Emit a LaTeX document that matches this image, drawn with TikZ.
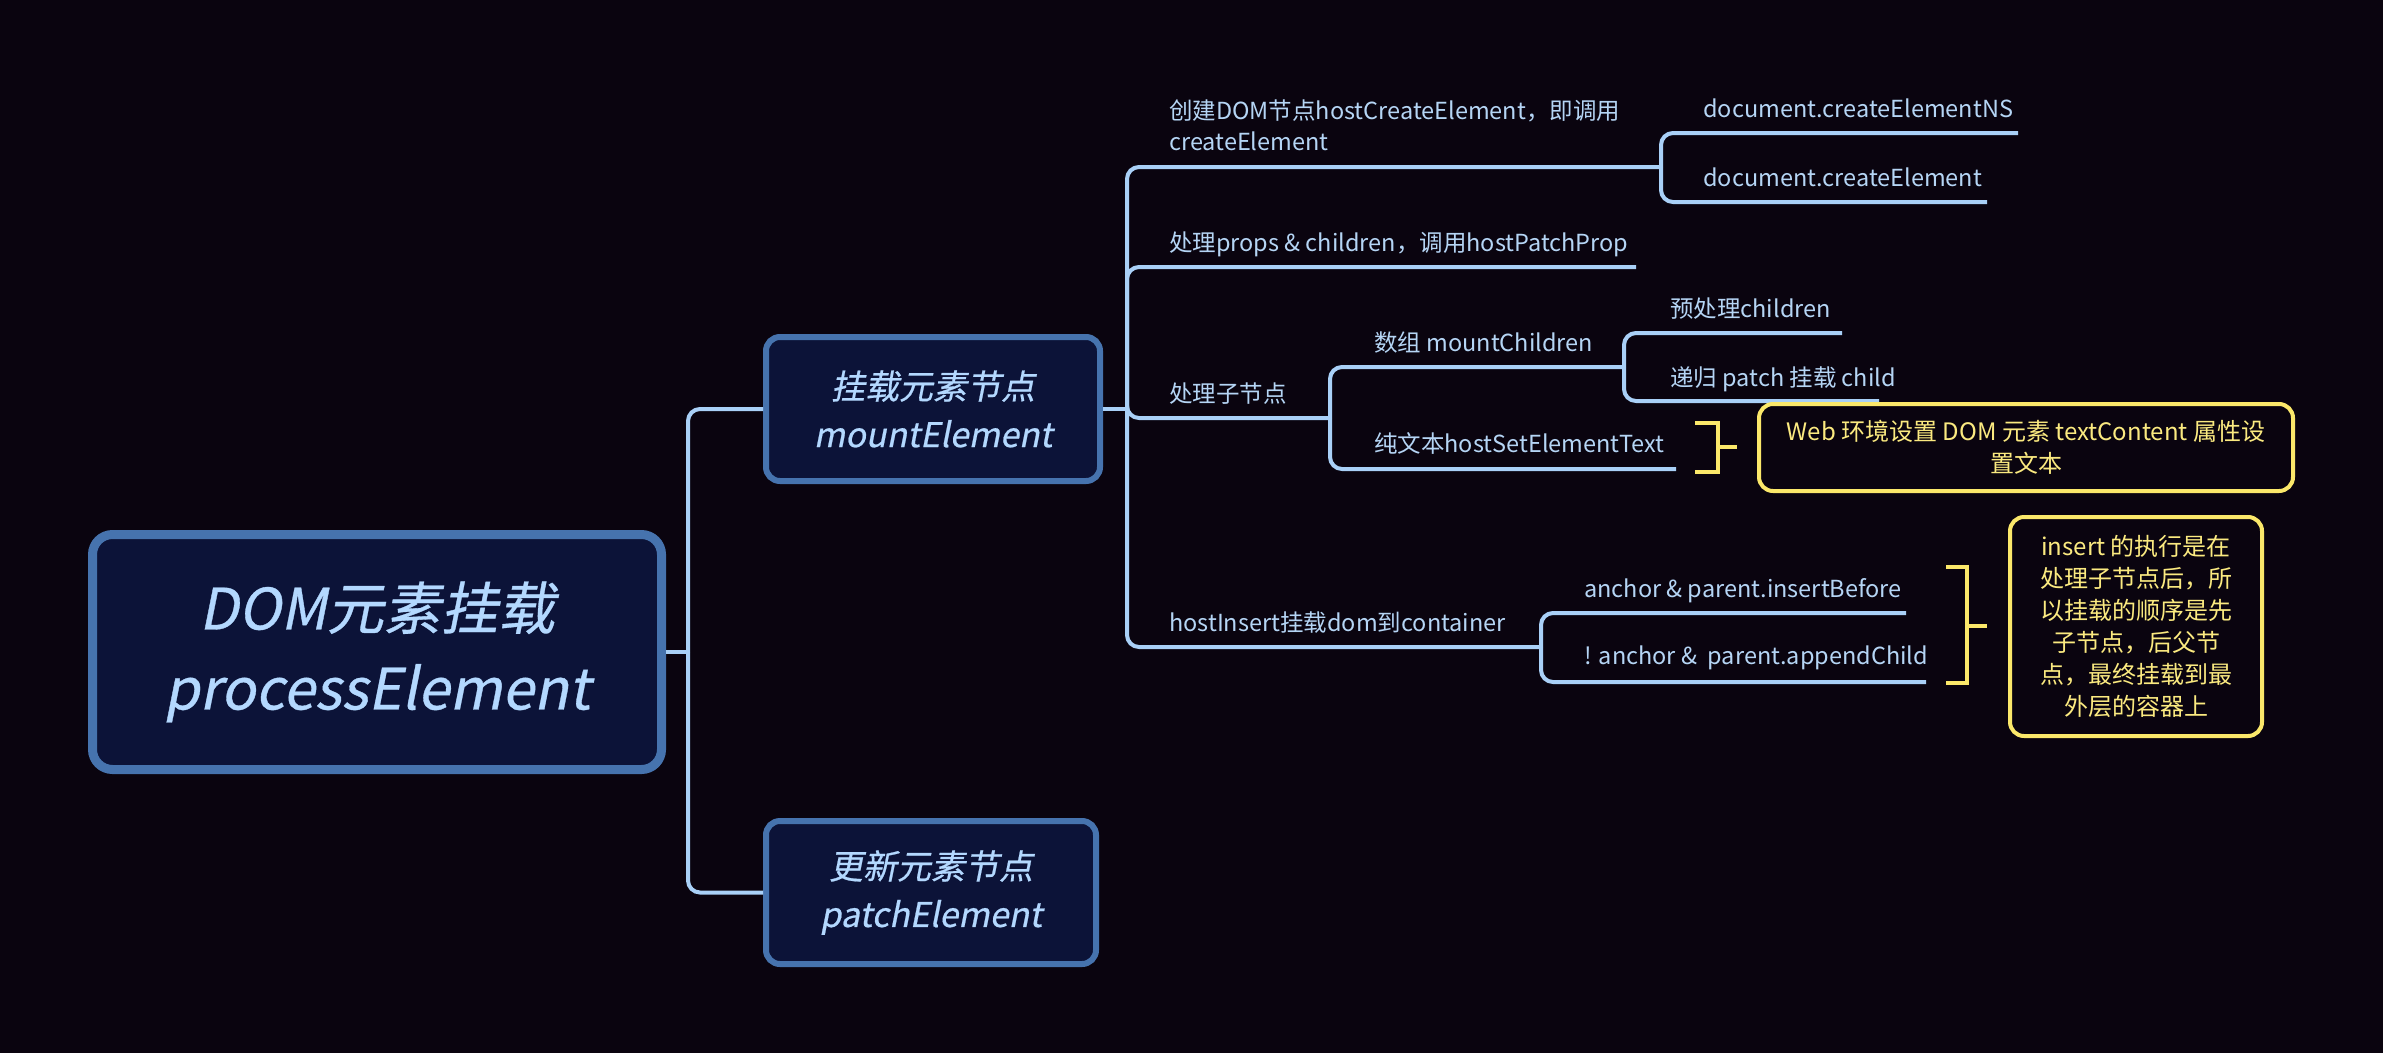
\documentclass[tikz,border=0pt]{standalone}
\usepackage{fontspec}
\setmainfont{Noto Sans CJK SC}
\newfontfamily\slantfont[FakeSlant=0.2, FakeBold=0.6]{Noto Sans CJK SC}
\usetikzlibrary{positioning}

\definecolor{bgcol}{HTML}{0A040F}
\definecolor{boxfill}{HTML}{0C1338}
\definecolor{boxline}{HTML}{4673AE}
\definecolor{titletext}{HTML}{B3D8FF}
\definecolor{linkcol}{HTML}{A9D0F7}
\definecolor{leaftext}{HTML}{B5D5F5}
\definecolor{noteline}{HTML}{FBE86A}
\definecolor{notetext}{HTML}{FBEA80}

\tikzset{
  topic/.style={draw=boxline, fill=boxfill, line width=6pt, rounded corners=14pt,
    text=titletext, align=center, inner sep=0pt,
    font=\slantfont\fontsize{34}{48}\selectfont},
  rootbox/.style={topic, line width=9pt, rounded corners=20pt,
    font=\slantfont\fontsize{57}{80}\selectfont},
  branch/.style={anchor=base west, inner sep=0pt, text=leaftext, align=left,
    font=\fontsize{23.5}{31}\selectfont},
  link/.style={draw=linkcol, line width=4pt, rounded corners=12pt},
  note/.style={draw=noteline, fill=bgcol, line width=4pt, rounded corners=14pt,
    text=notetext, align=center, inner sep=0pt,
    font=\fontsize{24}{32}\selectfont},
  bracket/.style={draw=noteline, line width=4pt},
}

\begin{document}
\begin{tikzpicture}[x=1pt, y=-1pt]
  \fill[bgcol] (0,0) rectangle (2383,1053);
  \useasboundingbox (0,0) rectangle (2383,1053);

  % main topics
  \node[rootbox, minimum width=569pt, minimum height=235pt] (root) at (377,652)
    {DOM元素挂载\\processElement};
  \node[topic, minimum width=334pt, minimum height=144pt] (mount) at (933,409)
    {挂载元素节点\\mountElement};
  \node[topic, minimum width=330pt, minimum height=143pt] (patch) at (931,892.5)
    {更新元素节点\\patchElement};

  \coordinate (s1) at (688,652);
  \draw[link] (root.east) -- (s1);
  \draw[link] (s1) |- (mount.west);
  \draw[link] (s1) |- (patch.west);

  % mountElement branches
  \coordinate (s2) at (1127,409);
  \draw[link] (mount.east) -- (s2);

  \node[branch] (create) at (1169,150) {创建DOM节点hostCreateElement，即调用\\createElement};
  \coordinate (k1) at (1661,167);
  \draw[link] (s2) |- (k1);
  \node[branch] (ns) at (1703,117) {document.createElementNS};
  \node[branch] (ce) at (1703,186) {document.createElement};
  \coordinate (k11) at (2018,133);
  \coordinate (k12) at (1987,202);
  \draw[link] (k1) |- (k11);
  \draw[link] (k1) |- (k12);

  \node[branch] (props) at (1169,251) {处理props \& children，调用hostPatchProp};
  \coordinate (k2) at (1636,267);
  \draw[link] (s2) |- (k2);

  \node[branch] (kids) at (1169,402) {处理子节点};
  \coordinate (k3) at (1330,418);
  \draw[link] (s2) |- (k3);
  \node[branch] (arr) at (1374,351) {数组 mountChildren};
  \coordinate (k31) at (1624,367);
  \draw[link] (k3) |- (k31);
  \node[branch] (pre) at (1670,317) {预处理children};
  \node[branch] (rec) at (1670,386) {递归 patch 挂载 child};
  \coordinate (k311) at (1842,333);
  \coordinate (k312) at (1879,401);
  \draw[link] (k31) |- (k311);
  \draw[link] (k31) |- (k312);
  \node[branch] (txt) at (1374,452) {纯文本hostSetElementText};
  \coordinate (k32) at (1676,469);
  \draw[link] (k3) |- (k32);

  \node[branch] (ins) at (1169,631) {hostInsert挂载dom到container};
  \coordinate (k4) at (1541,647);
  \draw[link] (s2) |- (k4);
  \node[branch] (before) at (1584,597) {anchor \& parent.insertBefore};
  \node[branch] (append) at (1584,664) {! anchor \&\ \ parent.appendChild};
  \coordinate (k41) at (1906,613);
  \coordinate (k42) at (1926,682);
  \draw[link] (k4) |- (k41);
  \draw[link] (k4) |- (k42);

  % summaries
  \draw[bracket] (1695,423) -- (1718,423) -- (1718,472) -- (1695,472);
  \draw[bracket] (1718,447) -- (1737,447);
  \node[note, minimum width=534pt, minimum height=87pt] (webnote) at (2026,447.5)
    {Web 环境设置 DOM 元素 textContent 属性设\\置文本};

  \draw[bracket] (1946,567) -- (1967,567) -- (1967,683) -- (1946,683);
  \draw[bracket] (1967,626) -- (1987,626);
  \node[note, minimum width=252pt, minimum height=219pt] (insnote) at (2136,626.5)
    {insert 的执行是在\\处理子节点后，所\\以挂载的顺序是先\\子节点，后父节\\点，最终挂载到最\\外层的容器上};
\end{tikzpicture}
\end{document}
